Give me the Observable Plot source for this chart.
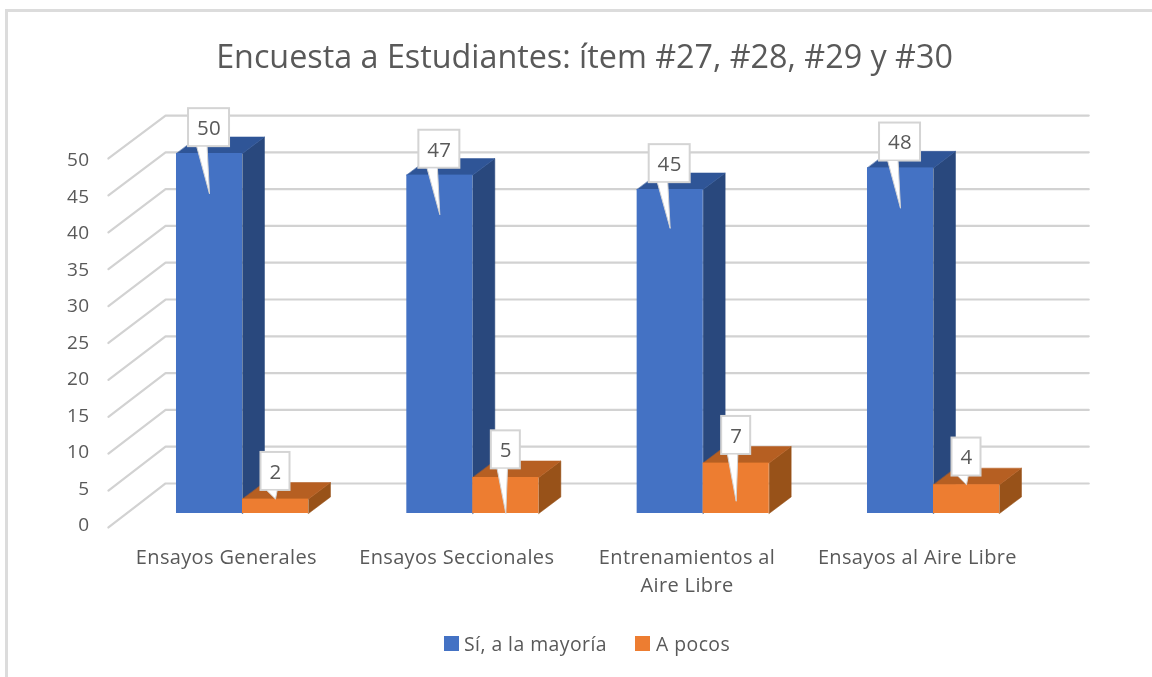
<!DOCTYPE html>
<html><head><meta charset="utf-8">
<script src="https://cdn.jsdelivr.net/npm/d3@7"></script>
<script src="https://cdn.jsdelivr.net/npm/@observablehq/plot@0.6"></script>
<style>
html,body{margin:0;padding:0;background:#fff;overflow:hidden}
#page{position:relative;width:1152px;height:677px;overflow:hidden;font-family:"Open Sans",sans-serif;color:#595959}
#frame{position:absolute;left:5px;top:9px;right:-10px;bottom:-10px;border-left:3px solid #dcdcdc;border-top:3px solid #dcdcdc}
#title{position:absolute;left:0;top:32px;width:1169px;text-align:center;font-size:32.3px;line-height:46px;filter:blur(.4px)}
#chart{position:absolute;left:0;top:90px;filter:blur(.55px)}
#chart svg{overflow:visible}
#chart svg text{letter-spacing:.35px}
#legend{position:absolute;left:0;top:0;font-size:19.4px;letter-spacing:.45px;filter:blur(.4px)}
#legend span{position:absolute;white-space:nowrap}
#legend i{position:absolute;width:15px;height:15px;display:block}
</style></head><body>
<div id="page">
<div id="frame"></div>
<div id="title">Encuesta a Estudiantes: ítem #27, #28, #29 y #30</div>
<div id="chart"></div>
<div id="legend">
<i style="left:444px;top:636px;background:#4472C4"></i><span style="left:464px;top:630px">Sí, a la mayoría</span>
<i style="left:635px;top:636px;background:#ED7D31"></i><span style="left:656px;top:630px">A pocos</span>
</div>
</div>
<script>
const categories = ["Ensayos Generales", "Ensayos Seccionales", "Entrenamientos al\nAire Libre", "Ensayos al Aire Libre"];
const siValues = [50, 47, 45, 48];
const pocosValues = [2, 5, 7, 4];
const yTicks = [0, 5, 10, 15, 20, 25, 30, 35, 40, 45, 50];
// value at which each callout's pointer ends
const siPointerTips = [44.4, 41.5, 39.6, 42.4];
const pocosPointerTips = [2, 0, 1.7, 4];

// oblique projection, in scale units
const barW = 0.2866, depthX = 0.0955, depthY = 2.3;
const backY = v => 4.17 + 1.022 * v;
const frontY = v => -1.94 + 1.025 * v;
const labelY = v => -1.65 + 1.014 * v;
const wallFront = -0.582, wallBack = -0.334, wallRight = 3.674;

const bars = (values, x0) => values.map((v, i) => ({i, v, a: i + x0, b: i + x0 + barW}));
const si = bars(siValues, -barW);
const pocos = bars(pocosValues, 0);

const topFace = d => [[d.a, d.v], [d.b, d.v], [d.b + depthX, d.v + depthY], [d.a + depthX, d.v + depthY]].map(p => ({x: p[0], y: p[1], id: d.i}));
const sideFace = d => [[d.b, 0], [d.b + depthX, depthY], [d.b + depthX, d.v + depthY], [d.b, d.v]].map(p => ({x: p[0], y: p[1], id: d.i}));

const closed = {x: "x", y: "y", z: "id", curve: "linear-closed"};
const barMarks = (rows, front, top, side) => [
  Plot.line(rows.flatMap(sideFace), {...closed, fill: side, stroke: side, strokeWidth: .5}),
  Plot.line(rows.flatMap(topFace), {...closed, fill: top, stroke: top, strokeWidth: .5}),
  Plot.rect(rows, {x1: "a", x2: "b", y1: 0, y2: "v", fill: front})
];

const boxH = 5.28, boxGap = 0.95;
const callouts = [
  ...si.map((d, i) => ({...d, tip: siPointerTips[i], w: 0.178, shift: -0.002})),
  ...pocos.map((d, i) => ({...d, tip: pocosPointerTips[i], w: 0.126, shift: 0}))
].map(d => {
  const cx = (d.a + d.b) / 2 + d.shift;
  const y1 = d.v + boxGap + (d.w < 0.15 ? 0.25 : 0);
  return {...d, cx, x1: cx - d.w / 2, x2: cx + d.w / 2, y1, y2: y1 + boxH};
});
const pointers = callouts.flatMap((d, id) => {
  const left = d.x1 + d.w * 0.2, right = left + 0.045;
  return [[left, d.y1], [(d.a + d.b) / 2, d.tip], [right, d.y1]].map(p => ({x: p[0], y: p[1], id}));
});

const gridColor = "#d2d2d2";
const wallLines = yTicks.flatMap(v => [
  {x: wallFront, y: frontY(v), id: "s" + v},
  {x: wallBack, y: backY(v), id: "s" + v},
  {x: wallRight, y: backY(v), id: "s" + v}
]);

const plot = Plot.plot({
  width: 1152, height: 535,
  margin: 0,
  x: {domain: [0, 3], range: [242, 933], axis: null},
  y: {domain: [0, 50], range: [423, 63], axis: null},
  style: {background: "transparent", overflow: "visible"},
  marks: [
    Plot.line(wallLines, {x: "x", y: "y", z: "id", stroke: gridColor, strokeWidth: 2.2}),
    Plot.text(yTicks, {x: () => -0.664, y: labelY, text: d => String(d), textAnchor: "end", fontSize: 19, fill: "#595959", fontFamily: "Open Sans"}),
    ...barMarks(si, "#4472C4", "#2F5597", "#29487D"),
    ...barMarks(pocos, "#ED7D31", "#B65F22", "#985219"),
    Plot.rect(callouts, {x1: "x1", x2: "x2", y1: "y1", y2: "y2", fill: "#fff", stroke: "#d4d4d4", strokeWidth: 2}),
    Plot.line(pointers, {x: "x", y: "y", z: "id", fill: "#fff", stroke: "#d4d4d4", strokeWidth: 1}),
    Plot.text(callouts, {x: "cx", y: d => d.y1 + boxH / 2 - 0.1, text: d => String(d.v), fontSize: 20.5, fill: "#595959", fontFamily: "Open Sans"}),
    Plot.text(categories, {x: (d, i) => i - 0.07, y: () => -4.4, text: d => d, lineAnchor: "top", lineHeight: 1.36, fontSize: 20, fill: "#595959", fontFamily: "Open Sans"})
  ]
});
document.getElementById("chart").appendChild(plot);
</script>
</body></html>
